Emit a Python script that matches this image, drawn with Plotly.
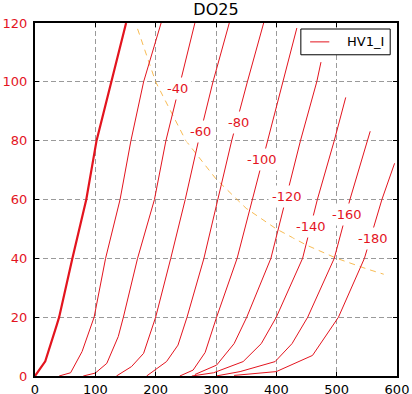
import plotly.graph_objects as go

# Grid-voltage curves of plate current (mA) vs plate voltage (V)
grid_labels = ["0", "-20", "-40", "-60", "-80", "-100", "-120", "-140", "-160", "-180"]

va_g0 = [0, 17, 36, 40, 62, 85, 102, 126, 151]
ia_g0 = [0, 5, 17.3, 20, 40, 60, 80, 100, 120]

va_g20 = [40, 59, 78, 98, 117, 141, 159, 180, 209]
ia_g20 = [0, 1.1, 8.3, 20, 40, 60, 80, 100, 120]

va_g40 = [80, 100, 119, 138, 146.5, 170, 198, 217, 241, 265]
ia_g40 = [0, 1, 4.3, 13.4, 20, 40, 60, 80, 100, 120]

va_g60 = [135, 160, 180, 200, 225, 249, 271, 295, 322]
ia_g60 = [0, 3.2, 7.7, 20, 40, 60, 80, 100, 120]

va_g80 = [185, 218, 237, 252, 280, 303, 326, 352, 379]
ia_g80 = [0, 4.9, 10.5, 20, 40, 60, 80, 100, 120]

va_g100 = [240, 262, 282, 301, 335, 360, 385, 410, 434]
ia_g100 = [0, 2, 8, 20, 40, 60, 80, 100, 118.3]

va_g120 = [265, 301, 330, 351, 391, 415, 440, 467, 474]
ia_g120 = [0.5, 3.7, 11, 20, 40, 60, 80, 100, 106.7]

va_g140 = [260, 296, 345, 375, 400, 443.5, 468, 496, 515]
ia_g140 = [0, 1.1, 4.9, 11, 20, 40, 60, 80, 94.7]

va_g160 = [300, 340, 398, 426, 452, 496, 522, 551, 555.6]
ia_g160 = [0, 1.5, 4.9, 11, 20, 40, 60, 80, 83.2]

va_g180 = [330, 400, 460, 503, 546, 575, 596]
ia_g180 = [0.2, 1.5, 7, 20, 40, 60, 72.3]

# Max plate dissipation curve
va_pmax = [170, 200, 250, 300, 350, 400, 450, 500, 550, 578]
ia_pmax = [118, 100, 80, 67, 57, 50, 44.5, 40, 36.4, 34.6]

# Inline curve labels
label_text = ["-40", "-60", "-80", "-100", "-120", "-140", "-160", "-180"]
label_va = [236, 274.7, 336.6, 377, 417.4, 457, 517, 559.7]
label_ia = [97.8, 83.2, 86.3, 73.5, 60.9, 50.8, 55, 46.8]

x_ticks = [0, 100, 200, 300, 400, 500, 600]
y_ticks = [0, 20, 40, 60, 80, 100, 120]

legend_name = "HV1_I"

RED = "#e3141e"

curves = [
    (va_g0, ia_g0), (va_g20, ia_g20), (va_g40, ia_g40), (va_g60, ia_g60),
    (va_g80, ia_g80), (va_g100, ia_g100), (va_g120, ia_g120),
    (va_g140, ia_g140), (va_g160, ia_g160), (va_g180, ia_g180),
]

fig = go.Figure()

fig.add_trace(go.Scatter(
    x=va_pmax, y=ia_pmax, mode="lines", showlegend=False,
    line=dict(color="rgba(245,170,40,0.8)", width=1, dash="6px,5px"),
    hoverinfo="skip",
))

for i, (vx, iy) in enumerate(curves):
    fig.add_trace(go.Scatter(
        x=vx, y=iy, mode="lines",
        name=legend_name, legendgroup="hv1", showlegend=False,
        line=dict(color=RED, width=2.2 if i == 0 else 1),
    ))

for t, vx, iy in zip(label_text, label_va, label_ia):
    fig.add_annotation(
        x=vx, y=iy, text=t, showarrow=False,
        font=dict(size=13, color=RED, family="DejaVu Sans"),
        bgcolor="white", borderpad=3,
    )

# Legend box (drawn in paper coordinates)
fig.add_shape(type="rect", xref="paper", yref="paper",
              x0=0.7344, x1=0.9812, y0=0.910, y1=0.983,
              line=dict(color="black", width=1), fillcolor="white", layer="above")
fig.add_shape(type="line", xref="paper", yref="paper",
              x0=0.760, x1=0.813, y0=0.9465, y1=0.9465,
              line=dict(color=RED, width=1), layer="above")
fig.add_annotation(xref="paper", yref="paper", x=0.855, y=0.9465,
                   xanchor="left", yanchor="middle", text=legend_name,
                   showarrow=False, font=dict(size=13, color="black"))

axis_common = dict(
    showline=True, linecolor="black", linewidth=2, mirror="ticks",
    ticks="inside", ticklen=4, tickcolor="black", tickwidth=1,
    showgrid=True, gridcolor="#9a9a9a", gridwidth=1, griddash="5px,3px",
    zeroline=False, automargin=False,
)

fig.update_xaxes(
    range=[0, 600], tickvals=x_ticks, ticktext=[str(v) for v in x_ticks],
    tickfont=dict(size=13, color="black"), **axis_common,
)
fig.update_yaxes(
    range=[0, 120], tickvals=y_ticks, ticktext=[str(v) for v in y_ticks],
    tickfont=dict(size=13, color=RED), ticklabelstandoff=3, **axis_common,
)

fig.update_layout(
    width=412, height=394,
    margin=dict(l=35, r=15, t=23, b=18),
    paper_bgcolor="white", plot_bgcolor="white",
    font=dict(family="DejaVu Sans", size=13, color="black"),
    title=dict(text="DO25", x=0.5, xref="paper", xanchor="center",
               y=0.975, yref="container", yanchor="middle",
               font=dict(size=16, color="black")),
    showlegend=False,
)

fig.write_html("out.html",
               config={"displayModeBar": False},
               post_script="document.body.style.margin='0';document.body.style.overflow='hidden';")
